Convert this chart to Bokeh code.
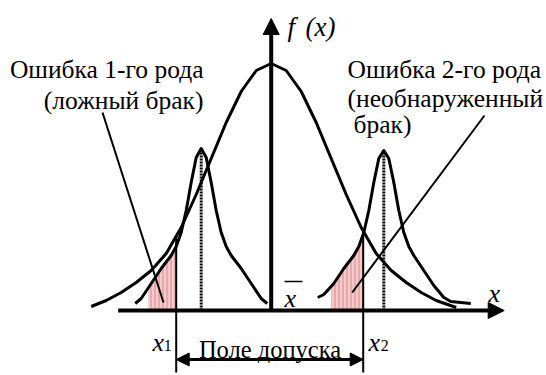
from bokeh.plotting import figure
from bokeh.models import Range1d, Arrow, NormalHead
from bokeh.core.properties import value
from bokeh.embed import file_html
from bokeh.resources import INLINE
import numpy as np

# Wide density: offsets from the mean and heights above the x axis
big_dx = [-180, -165, -150, -135, -120, -105, -90, -75, -60, -45, -30, -15, 0,
          15, 30, 45, 60, 75, 90, 105, 120, 135, 150, 165, 185]
big_h = [4, 10, 18, 28, 40, 57, 83, 116, 152, 188, 219, 240, 247,
         240, 219, 188, 152, 116, 83, 57, 40, 28, 18, 10, 3]

# Narrow density near the lower tolerance limit
left_d = [-66, -60, -50, -40, -30, -25, -20, -15, -10, -5, 0,
          5, 10, 15, 20, 25, 30, 40, 50, 60, 66]
left_h = [7, 12, 27, 42, 55, 64, 78, 100, 128, 153, 162,
          153, 128, 100, 78, 64, 55, 42, 27, 12, 7]

# Narrow density near the upper tolerance limit
right_d = [-66, -60, -50, -40, -30, -25, -20, -15, -10, -5, 0,
           5, 10, 15, 20, 25, 30, 40, 50, 60, 67, 87]
right_h = [13, 16, 27, 42, 55, 64, 78, 100, 128, 152, 160,
           152, 128, 100, 78, 64, 55, 40, 25, 13, 9, 7]

mean_x = 0.0
left_center = -70.0
right_center = 112.6
x1 = -95.0
x2 = 92.0

p = figure(width=546, height=375, output_backend="svg", toolbar_location=None,
           x_range=Range1d(-270.7, 275.3), y_range=Range1d(-65, 310),
           min_border=0, outline_line_color=None)
p.axis.visible = False
p.grid.visible = False
p.background_fill_color = "white"

def curve(center, d, h):
    return np.array(d, float) + center, np.array(h, float)

bx, by = curve(mean_x, big_dx, big_h)
lx, ly = curve(left_center, left_d, left_h)
rx, ry = curve(right_center, right_d, right_h)

# shaded error areas under the narrow curves
def shade(xs, ys, xmin, xmax):
    m = (xs > xmin) & (xs < xmax)
    px = [xmin] + list(xs[m]) + [xmax, xmax, xmin]
    py = [float(np.interp(xmin, xs, ys))] + list(ys[m]) + [float(np.interp(xmax, xs, ys)), 0, 0]
    p.patch(px, py, fill_color="#f4caca", line_color=None,
            hatch_pattern="vertical_line", hatch_color="#d88a8a",
            hatch_scale=4, hatch_weight=1)

shade(lx, ly, -123, x1)
shade(rx, ry, 60, x2)

for xs, ys in [(bx, by), (lx, ly), (rx, ry)]:
    p.line(xs, ys, line_color="black", line_width=3, line_join="round")

# dotted centre lines of the narrow curves
for c, h in [(left_center, max(left_h)), (right_center, max(right_h))]:
    p.line([c, c], [0, h], line_color="black", line_width=3, line_dash="2 1")

# axes
p.add_layout(Arrow(end=NormalHead(size=16, fill_color="black", line_color="black"),
                   x_start=-153, y_start=0, x_end=233, y_end=0,
                   line_width=4, line_color="black"))
p.add_layout(Arrow(end=NormalHead(size=16, fill_color="black", line_color="black"),
                   x_start=mean_x, y_start=0, x_end=mean_x, y_end=292,
                   line_width=4, line_color="black"))

# tolerance limits and the tolerance field arrow
for xv in (x1, x2):
    p.line([xv, xv], [-62, np.interp(xv, bx, by)], line_color="black", line_width=2)
p.add_layout(Arrow(start=NormalHead(size=13, fill_color="black", line_color="black"),
                   end=NormalHead(size=13, fill_color="black", line_color="black"),
                   x_start=x1, y_start=-49, x_end=x2, y_end=-49,
                   line_width=3, line_color="black"))

# pointer lines
p.segment(x0=[-168.7, 213.3], y0=[198, 195], x1=[-107.7, 81], y1=[8, 18],
          line_color="black", line_width=2)

serif = value("Liberation Serif")
def txt(x, y, s, size="25.5px", align="left", style="normal"):
    p.text(x=[x], y=[y], text=[s], text_font=serif, text_font_size=size,
           text_align=align, text_baseline="alphabetic", text_font_style=style,
           text_color="black")

txt(-67.7, 241, "Ошибка 1-го рода", align="right")
txt(-67.7, 210, "(ложный брак)", align="right")
txt(76.3, 241, "Ошибка 2-го рода")
txt(76.3, 212.5, "(необнаруженный")
txt(82.3, 186, "брак)")
txt(16.3, 284, "f", size="27px", style="italic")
txt(34.3, 284, "(x)", size="27px", style="italic")
txt(217.3, 17, "x", size="26px", style="italic")
txt(13.3, 12, "x", size="26px", style="italic")
p.segment(x0=[13.3], y0=[29], x1=[31.3], y1=[29], line_color="black", line_width=1.5)
txt(-118.7, -32, "x", size="26px", style="italic")
txt(-107.5, -35, "1", size="16px")
txt(97.3, -32, "x", size="26px", style="italic")
txt(109.5, -35, "2", size="16px")
txt(-1.2, -39, "Поле допуска", size="24.5px", align="center")

open("out.html", "w").write(file_html(p, INLINE))
